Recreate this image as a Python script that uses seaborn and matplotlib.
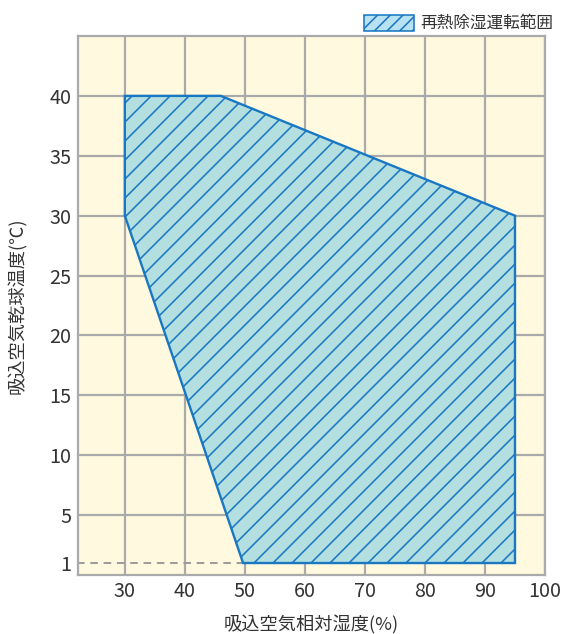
import matplotlib
matplotlib.use('Agg')
import matplotlib.pyplot as plt
import matplotlib.patches as mpatches
import seaborn as sns

# Operating range (relative humidity %, dry bulb temperature C)
humidity = [30, 46, 95, 95, 49.7, 30]
temperature = [40, 40, 30, 1, 1, 30]

x_ticks = [30, 40, 50, 60, 70, 80, 90, 100]
y_ticks = [1, 5, 10, 15, 20, 25, 30, 35, 40]
legend_label = '再熱除湿運転範囲'
x_label = '吸込空気相対湿度(%)'
y_label = '吸込空気乾球温度(℃)'

sns.set_style('white')
plt.rcParams['font.family'] = ['Noto Sans CJK JP', 'DejaVu Sans']
plt.rcParams['hatch.linewidth'] = 1.0

DPI = 114
fig = plt.figure(figsize=(568 / DPI, 634 / DPI), dpi=DPI)
ax = fig.add_axes([78 / 568, 1 - 575 / 634, 467 / 568, 539 / 634])
ax.set_facecolor('#fffadf')

grid_color = '#aaaaaa'
ax.set_axisbelow(True)
ax.grid(True, color=grid_color, linewidth=1.4)
for s in ax.spines.values():
    s.set_color(grid_color)
    s.set_linewidth(1.4)

# Shaded range
ax.fill(humidity, temperature, facecolor='#b3dfe0', edgecolor='#1a78c2',
        hatch='//', linewidth=0, zorder=0.8)
ax.fill(humidity, temperature, facecolor='none', edgecolor='#1a78c2',
        linewidth=1.5, zorder=2)

# Dashed guide at 1 C
sns.lineplot(x=[22, humidity[4]], y=[1, 1], ax=ax, color='#999999',
             linestyle=(0, (4, 3)), linewidth=1.2, zorder=1.5)

ax.set_xlim(22.2, 100)
ax.set_ylim(0, 45)
ax.set_xticks(x_ticks)
ax.set_yticks(y_ticks)
ax.tick_params(length=0, labelsize=12.5, colors='#333333', pad=4)
# no solid gridline at 1 C
for tick, line in zip(y_ticks, ax.get_ygridlines()):
    if tick == 1:
        line.set_visible(False)

ax.set_xlabel(x_label, fontsize=11.5, color='#333333', labelpad=8)
ax.set_ylabel(y_label, fontsize=11.5, color='#333333', labelpad=14)

handle = mpatches.Patch(facecolor='#b8e2f2', edgecolor='#1a78c2', hatch='///',
                        linewidth=1.0, label=legend_label)
fig.legend(handles=[handle], loc='upper right', bbox_to_anchor=(565 / 568, 1 - 3 / 634),
           frameon=False, fontsize=10.5, handlelength=3.0, handleheight=1.1,
           handletextpad=0.4, borderpad=0.2, labelcolor='#333333')

fig.savefig('out.png', dpi=DPI)
